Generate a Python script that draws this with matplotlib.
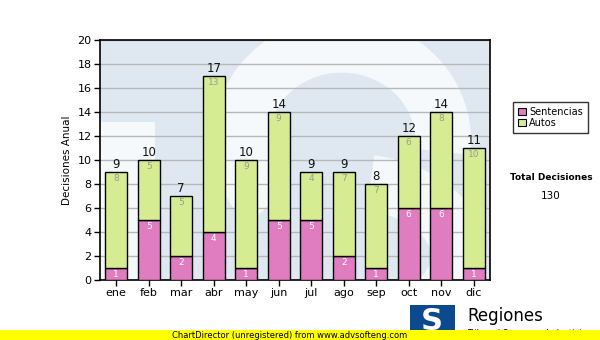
import numpy as np
import matplotlib.pyplot as plt
from matplotlib.patches import Rectangle, Arc

meses = ['ene', 'feb', 'mar', 'abr', 'may', 'jun', 'jul', 'ago', 'sep', 'oct', 'nov', 'dic']
sentencias = [1, 5, 2, 4, 1, 5, 5, 2, 1, 6, 6, 1]
autos = [8, 5, 5, 13, 9, 9, 4, 7, 7, 6, 8, 10]
y_ticks = [0, 2, 4, 6, 8, 10, 12, 14, 16, 18, 20]

plt.rcParams['font.family'] = ['DejaVu Sans']

fig = plt.figure(figsize=(6, 3.4), dpi=100)
fig.patch.set_facecolor('white')
ax = fig.add_axes([100 / 600, 1 - 280 / 340, 390 / 600, 240 / 340])
ax.set_facecolor('#dfe8f1')

# marca de agua (S del logo), en coordenadas de ejes
wm = dict(transform=ax.transAxes, color='white', alpha=0.75, zorder=0.5, clip_on=True)
ax.add_patch(Arc((0.62, 0.58), 0.52, 0.80, theta1=-10, theta2=235, lw=40, **wm))
ax.add_patch(Arc((0.64, 0.10), 0.56, 0.62, theta1=-60, theta2=80, lw=40, **wm))
ax.add_patch(Rectangle((0, 0), 0.14, 0.66, transform=ax.transAxes, fc='white', ec='none',
                       alpha=0.75, zorder=0.5))

x = np.arange(len(meses))
sent = np.array(sentencias)
aut = np.array(autos)
total = sent + aut
w = 0.68

ax.bar(x, sent, width=w, color='#e07cc0', edgecolor='black', linewidth=1, zorder=3)
ax.bar(x, aut, width=w, bottom=sent, color='#d6ec92', edgecolor='black', linewidth=1, zorder=3)

for i in range(len(meses)):
    ax.text(x[i], sent[i] - 0.15, str(sent[i]), ha='center', va='top', fontsize=6.5,
            color='white', zorder=4)
    ax.text(x[i], total[i] - 0.15, str(aut[i]), ha='center', va='top', fontsize=6.5,
            color='#999999', zorder=4)
    ax.text(x[i], total[i] + 0.1, str(total[i]), ha='center', va='bottom', fontsize=8.5,
            color='#111111', zorder=4)

ax.set_xlim(-0.5, len(meses) - 0.5)
ax.set_ylim(0, 20)
ax.set_yticks(y_ticks)
ax.set_xticks(x)
ax.set_xticklabels(meses)
ax.tick_params(axis='both', labelsize=8, length=4, width=1, direction='out', pad=2)
ax.yaxis.grid(True, color='#b8b8b8', linewidth=1, zorder=1)
ax.set_axisbelow(True)
for s in ax.spines.values():
    s.set_linewidth(1.2)
ax.set_ylabel('Decisiones Anual', fontsize=7.5, labelpad=4)

# leyenda
leg = fig.legend(handles=[Rectangle((0, 0), 1, 1, fc='#e07cc0', ec='black', lw=0.8),
                          Rectangle((0, 0), 1, 1, fc='#d6ec92', ec='black', lw=0.8)],
                 labels=['Sentencias', 'Autos'], loc='upper left',
                 bbox_to_anchor=(508 / 600, 1 - 97 / 340), fontsize=7, frameon=True,
                 fancybox=False, edgecolor='black', handlelength=0.8, handleheight=0.8,
                 handletextpad=0.4, borderpad=0.5, labelspacing=0.1)
leg.get_frame().set_linewidth(1)

fig.text(551 / 600, 1 - 178 / 340, 'Total Decisiones', fontsize=6.5, fontweight='bold',
         ha='center', va='center')
fig.text(551 / 600, 1 - 196 / 340, str(total.sum()), fontsize=7.5, ha='center', va='center')

# logo inferior
fig.patches.append(Rectangle((410 / 600, 0), 45 / 600, 35 / 340, transform=fig.transFigure,
                             fc='#0b4a8f', ec='none', zorder=1))
fig.text(432 / 600, 18 / 340, 'S', fontsize=22, fontweight='bold', color='white',
         ha='center', va='center', zorder=2)
fig.text(467 / 600, 1 - 316 / 340, 'Regiones', fontsize=12, ha='left', va='center', zorder=2)
fig.text(467 / 600, 1 - 334 / 340, 'Tribunal Supremo de Justicia', fontsize=6, ha='left',
         va='center', zorder=2)

# banda amarilla
fig.patches.append(Rectangle((0, 0), 1, 10 / 340, transform=fig.transFigure,
                             fc='#ffff00', ec='none', zorder=3))
fig.text(290 / 600, 5 / 340, 'ChartDirector (unregistered) from www.advsofteng.com',
         fontsize=6, ha='center', va='center', zorder=4)

fig.savefig('out.png', dpi=100)
